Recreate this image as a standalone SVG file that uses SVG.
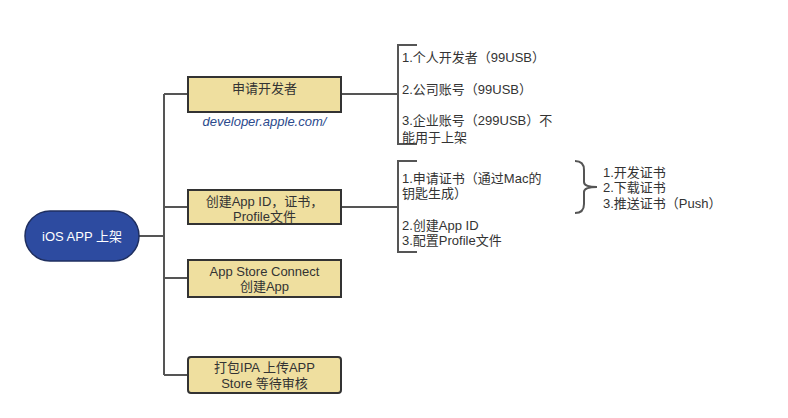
<svg xmlns="http://www.w3.org/2000/svg" width="788" height="418" viewBox="0 0 788 418">
<style>
text{font-family:"Liberation Sans","Noto Sans CJK SC",sans-serif;font-size:13px;fill:#333}
.c{text-anchor:middle}
.box{fill:#efdf9f;stroke:#333;stroke-width:2}
.ln{fill:none;stroke:#555;stroke-width:2}
.link{font-style:italic;fill:#2b4a8c}
</style>
<rect width="788" height="418" fill="#fff"/>
<g id="connectors">
<path class="ln" d="M139,236 H164 M164,94 V375 M164,94 H188 M164,207 H188 M164,278 H188 M164,375 H188"/>
<path class="ln" d="M341,94 H398 M417,45 H398 V144 H417"/>
<path class="ln" d="M341,207 H398 M417,161 H398 V252 H417"/>
<path class="ln" d="M575,161 Q584,161 584,170 V182 Q584,187 597,187 Q584,187 584,192 V204 Q584,213 575,213"/>
</g>
<g id="root">
<rect x="25" y="211" width="114" height="50" rx="25" fill="#2d4ba0" stroke="#1f2f60" stroke-width="1.5"/>
<text class="c" x="82" y="241" style="fill:#fff">iOS APP 上架</text>
</g>
<g id="n1">
<rect class="box" x="188" y="77" width="153" height="35"/>
<text class="c" x="264.5" y="93">申请开发者</text>
<text class="c link" x="264.5" y="126">developer.apple.com/</text>
</g>
<g id="n2">
<rect class="box" x="188" y="190" width="153" height="34"/>
<text class="c" x="264.5" y="206">创建App ID，证书，</text>
<text class="c" x="264.5" y="221">Profile文件</text>
</g>
<g id="n3">
<rect class="box" x="188" y="260" width="153" height="37"/>
<text class="c" x="264.5" y="276">App Store Connect</text>
<text class="c" x="264.5" y="291">创建App</text>
</g>
<g id="n4">
<rect class="box" x="188" y="357" width="153" height="36" rx="3"/>
<text class="c" x="264.5" y="372">打包IPA 上传APP</text>
<text class="c" x="264.5" y="388">Store 等待审核</text>
</g>
<g id="n1-details">
<text x="402" y="62">1.个人开发者（99USB）</text>
<text x="402" y="94">2.公司账号（99USB）</text>
<text x="402" y="125">3.企业账号（299USB）不</text>
<text x="402" y="142">能用于上架</text>
</g>
<g id="n2-details">
<text x="402" y="183">1.申请证书（通过Mac的</text>
<text x="402" y="198">钥匙生成）</text>
<text x="402" y="230">2.创建App ID</text>
<text x="402" y="245">3.配置Profile文件</text>
</g>
<g id="cert-details">
<text x="603" y="177">1.开发证书</text>
<text x="603" y="192">2.下载证书</text>
<text x="603" y="208">3.推送证书（Push）</text>
</g>
</svg>
